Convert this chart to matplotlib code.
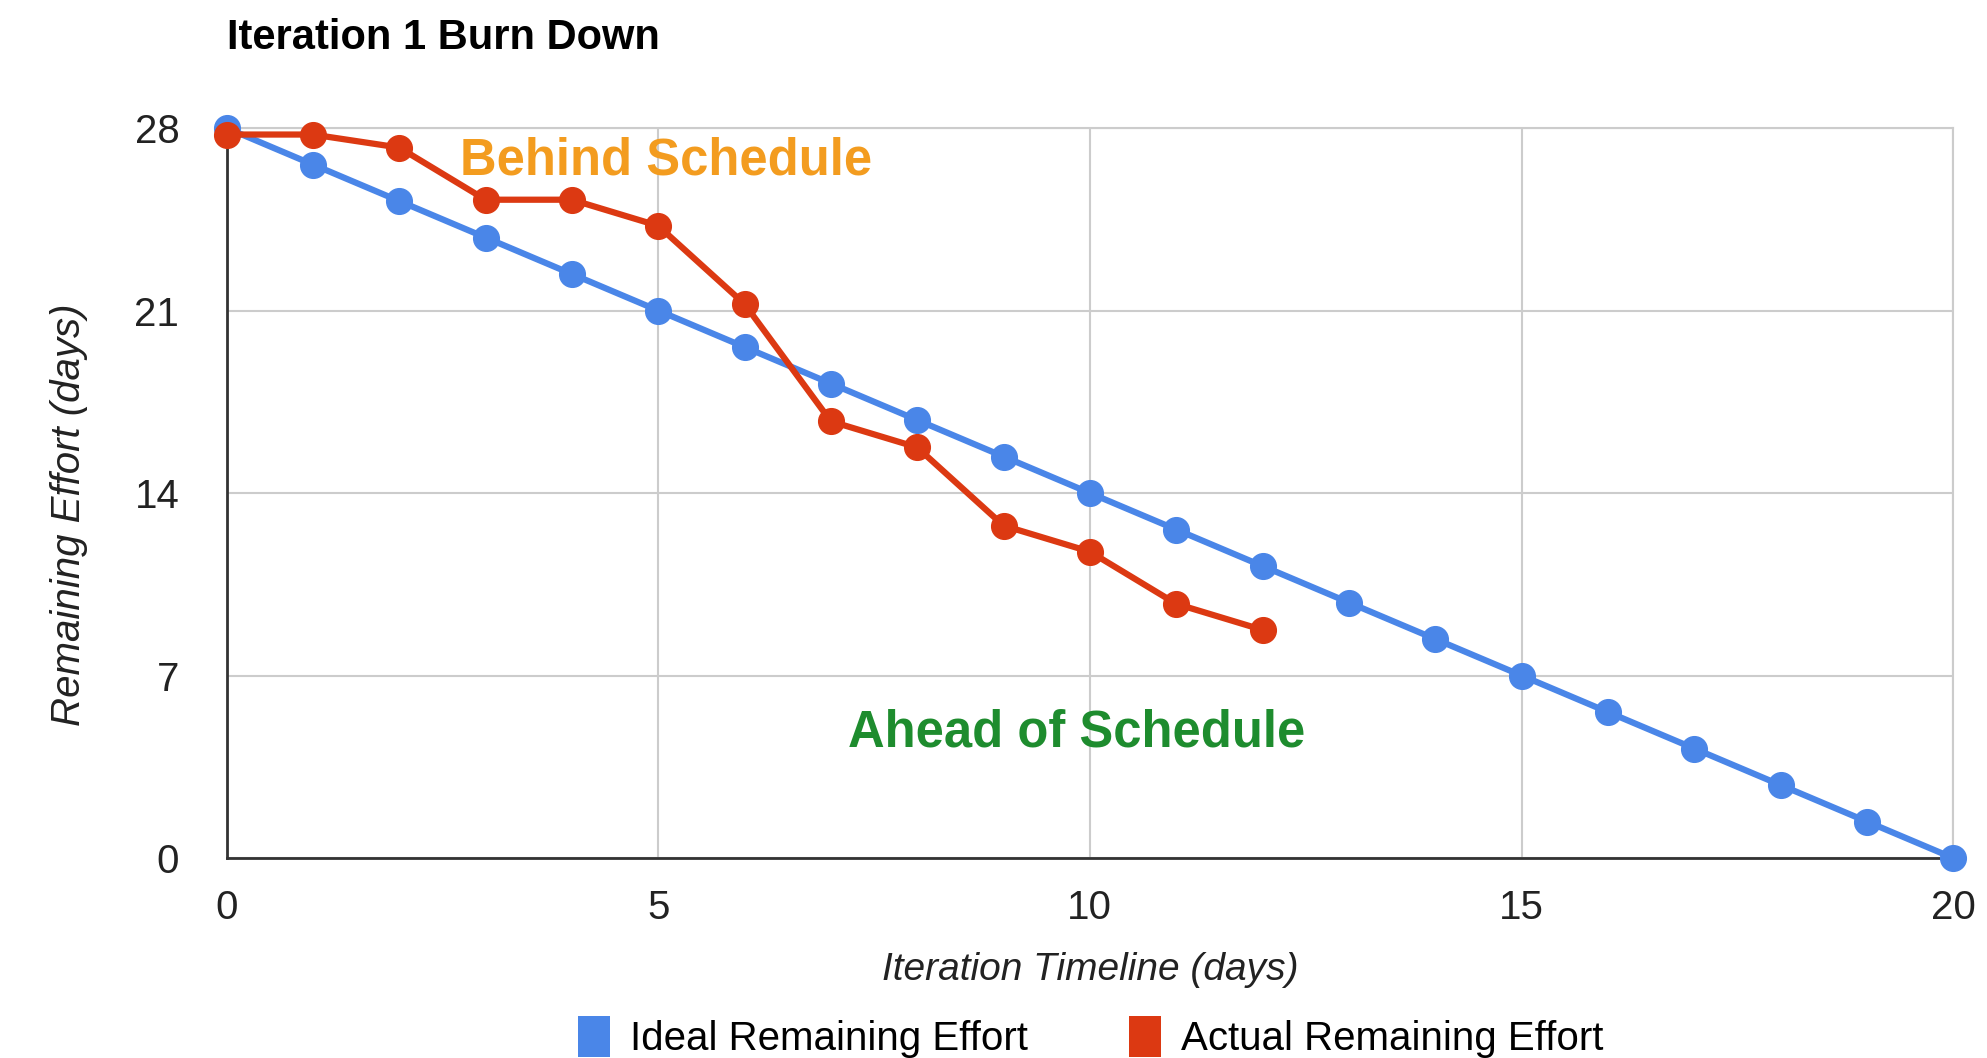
import matplotlib.pyplot as plt
from matplotlib.patches import Patch

plt.rcParams['font.family'] = ['Liberation Sans', 'DejaVu Sans']

# Data
days_ideal = list(range(0, 21))
ideal_effort = [28.0, 26.6, 25.2, 23.8, 22.4, 21.0, 19.6, 18.2, 16.8, 15.4, 14.0,
                12.6, 11.2, 9.8, 8.4, 7.0, 5.6, 4.2, 2.8, 1.4, 0.0]
days_actual = list(range(0, 13))
actual_effort = [27.75, 27.75, 27.25, 25.25, 25.25, 24.25, 21.25, 16.75, 15.75,
                 12.75, 11.75, 9.75, 8.75]
x_ticks = [0, 5, 10, 15, 20]
y_ticks = [0, 7, 14, 21, 28]

blue = '#4A86E8'
red = '#DC3912'

fig = plt.figure(figsize=(19.87, 10.58), dpi=100)
ax = fig.add_axes([0.114, 0.189, 0.869, 0.690])

ax.plot(days_ideal, ideal_effort, '-', color=blue, linewidth=4.5, marker='o',
        markersize=18.5, clip_on=False, zorder=3)
ax.plot(days_actual, actual_effort, '-', color=red, linewidth=4.5, marker='o',
        markersize=18.5, clip_on=False, zorder=4)

ax.set_xlim(0, 20)
ax.set_ylim(0, 28)
ax.set_xticks(x_ticks)
ax.set_yticks(y_ticks)
ax.tick_params(axis='both', length=0, labelsize=29, colors='#222222')
ax.tick_params(axis='y', pad=34)
ax.tick_params(axis='x', pad=22)

ax.grid(True, color='#CCCCCC', linewidth=1.5)
ax.set_axisbelow(True)
for side in ['top', 'right']:
    ax.spines[side].set_color('#CCCCCC')
    ax.spines[side].set_linewidth(1.5)
for side in ['left', 'bottom']:
    ax.spines[side].set_color('#333333')
    ax.spines[side].set_linewidth(2)

ax.set_xlabel('Iteration Timeline (days)', fontsize=28, style='italic',
              color='#222222', labelpad=18)
ax.set_ylabel('Remaining Effort (days)', fontsize=29, style='italic',
              color='#222222')
ax.yaxis.set_label_coords(-0.080, 0.47)

ax.text(2.7, 26.75, 'Behind Schedule', fontsize=36.5, fontweight='bold',
        color='#F39C1F', va='center', ha='left')
ax.text(7.2, 4.8, 'Ahead of Schedule', fontsize=36.5, fontweight='bold',
        color='#1E8C2E', va='center', ha='left')

fig.text(0.114, 0.964, 'Iteration 1 Burn Down', fontsize=30, fontweight='bold',
         va='center', ha='left')

handles = [Patch(facecolor=blue, edgecolor='none', label='Ideal Remaining Effort'),
           Patch(facecolor=red, edgecolor='none', label='Actual Remaining Effort')]
fig.legend(handles=handles, loc='center', bbox_to_anchor=(0.549, 0.02), ncol=2,
           frameon=False, fontsize=29, handlelength=0.8, handleheight=1.2,
           handletextpad=0.5, columnspacing=2.5)

plt.savefig('out.png', dpi=100)
